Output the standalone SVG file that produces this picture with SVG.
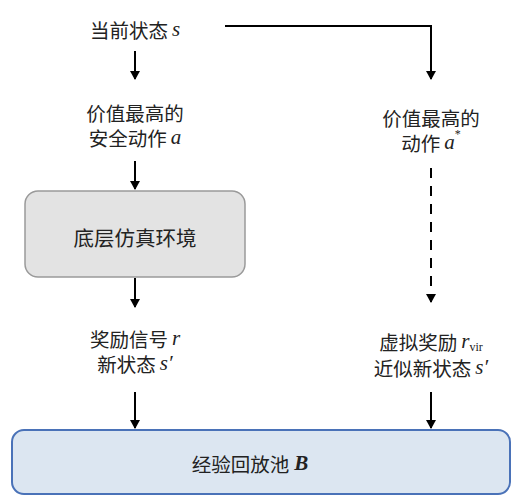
<svg xmlns="http://www.w3.org/2000/svg" width="528" height="503" viewBox="0 0 528 503">
<style>
.t{font-family:"Noto Sans CJK SC","Liberation Serif",serif;font-size:19.5px;fill:#222;text-anchor:middle;dominant-baseline:central}
.m{font-family:"Liberation Serif",serif;font-style:italic;font-size:21px}
.c{stroke:#000;stroke-width:2;fill:none}
</style>
<defs>
<marker id="ah" markerWidth="10" markerHeight="10" refX="8" refY="5" orient="auto" markerUnits="userSpaceOnUse">
<path d="M0,0 L9,5 L0,10 Z" fill="#000"/>
</marker>
</defs>
<rect width="528" height="503" fill="#fff"/>
<g id="connectors">
<line class="c" x1="135" y1="51" x2="135" y2="79" marker-end="url(#ah)"/>
<polyline class="c" points="225,26 431,26 431,79" marker-end="url(#ah)"/>
<line class="c" x1="135" y1="161" x2="135" y2="189" marker-end="url(#ah)"/>
<line class="c" x1="135" y1="278" x2="135" y2="307" marker-end="url(#ah)"/>
<line class="c" x1="431" y1="168" x2="431" y2="302" stroke-dasharray="10 8" marker-end="url(#ah)"/>
<line class="c" x1="135" y1="392" x2="135" y2="428" marker-end="url(#ah)"/>
<line class="c" x1="431" y1="392" x2="431" y2="428" marker-end="url(#ah)"/>
</g>
<g id="state">
<text class="t" x="135" y="29">当前状态<tspan class="m" dx="4">s</tspan></text>
</g>
<g id="safe-action">
<text class="t" x="135" y="112">价值最高的</text>
<text class="t" x="135" y="137">安全动作<tspan class="m" dx="4">a</tspan></text>
</g>
<g id="best-action">
<text class="t" x="431" y="117">价值最高的</text>
<text class="t" x="431" y="142">动作<tspan class="m" dx="4">a</tspan><tspan font-family="Liberation Serif" font-size="12" dy="-8">*</tspan></text>
</g>
<g id="env">
<rect x="25" y="191" width="220" height="86" rx="13" fill="#e3e3e3" stroke="#9a9a9a" stroke-width="1.5"/>
<text class="t" x="135" y="237" style="font-size:20.5px">底层仿真环境</text>
</g>
<g id="reward">
<text class="t" x="135" y="338">奖励信号<tspan class="m" dx="4">r</tspan></text>
<text class="t" x="135" y="363">新状态<tspan class="m" dx="4">s′</tspan></text>
</g>
<g id="virtual-reward">
<text class="t" x="431" y="341">虚拟奖励<tspan class="m" dx="4">r</tspan><tspan font-family="Liberation Serif" font-size="12" dy="6">vir</tspan></text>
<text class="t" x="431" y="367">近似新状态<tspan class="m" dx="4">s′</tspan></text>
</g>
<g id="buffer">
<rect x="12" y="430" width="498" height="64" rx="12" fill="#dce6f1" stroke="#4a72b8" stroke-width="2"/>
<text class="t" x="250" y="463">经验回放池<tspan class="m" dx="5" font-weight="bold">B</tspan></text>
</g>
</svg>
